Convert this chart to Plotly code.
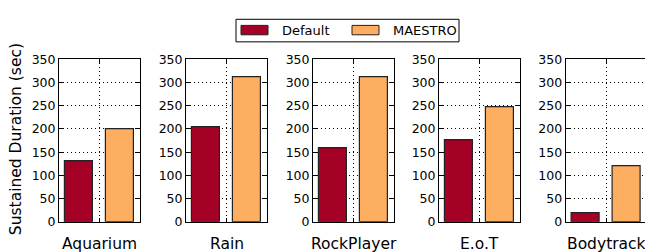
import plotly.graph_objects as go

apps = ["Aquarium", "Rain", "RockPlayer", "E.o.T", "Bodytrack"]
series_names = ["Default", "MAESTRO"]
default_vals = [130, 203, 159, 175, 18]
maestro_vals = [200, 311, 312, 247, 120]
colors = ["#a50026", "#fdae61"]
y_ticks = [0, 50, 100, 150, 200, 250, 300, 350]

W, H = 645, 252
FONT = "DejaVu Sans"

fig = go.Figure()

left_px = [59, 186, 313, 439, 565.7]
panel_w = 81.0
px_per_unit = panel_w / 2.0
y_bot_px, y_top_px = 227.3, 54.5
DOT = "1px,3px"

for i, app in enumerate(apps):
    xa = "x" if i == 0 else f"x{i+1}"
    ya = "y" if i == 0 else f"y{i+1}"
    for j, (name, vals) in enumerate(zip(series_names, [default_vals, maestro_vals])):
        fig.add_trace(go.Bar(
            x=[j], y=[vals[i]], width=0.7, name=name,
            marker=dict(color=colors[j], line=dict(color="#222222", width=1.2)),
            xaxis=xa, yaxis=ya, showlegend=False,
        ))
    l = left_px[i]
    r = min(l + panel_w, W)
    xmax = -0.5 + (r - l) / px_per_unit
    last = (i == len(apps) - 1)
    xkey = "xaxis" if i == 0 else f"xaxis{i+1}"
    ykey = "yaxis" if i == 0 else f"yaxis{i+1}"
    fig.update_layout(**{
        xkey: dict(
            domain=[l / W, r / W], range=[-0.5, xmax], anchor=ya,
            tickvals=[0.5], ticktext=[""], ticks="inside", ticklen=4,
            tickcolor="black", showline=True, linecolor="black", linewidth=1,
            mirror="ticks", showgrid=True, gridcolor="black", griddash=DOT,
            gridwidth=1, zeroline=False, fixedrange=True,
        ),
        ykey: dict(
            domain=[1 - y_bot_px / H, 1 - y_top_px / H], range=[0, 350], anchor=xa,
            tickvals=y_ticks, ticks="inside", ticklen=4, tickcolor="black",
            showline=True, linecolor="black", linewidth=1,
            mirror=False if last else "ticks",
            showgrid=True, gridcolor="black", griddash=DOT, gridwidth=1,
            zeroline=False, tickfont=dict(family=FONT, size=12.5, color="black"),
            fixedrange=True,
        ),
    })
    fig.add_annotation(
        x=(l + panel_w / 2) / W, y=1 - 239 / H, xref="paper", yref="paper",
        text=app, showarrow=False, xanchor="center", yanchor="top",
        font=dict(family=FONT, size=15.5, color="black"),
    )

# y-axis title
fig.add_annotation(
    x=15.5 / W, y=1 - 140 / H, xref="paper", yref="paper",
    text="Sustained Duration (sec)", textangle=-90, showarrow=False,
    xanchor="center", yanchor="middle",
    font=dict(family=FONT, size=15.5, color="black"),
)

# legend (box, swatches, labels)
shapes = [dict(type="rect", xref="paper", yref="paper",
               x0=236 / W, x1=459 / W, y0=1 - 36 / H, y1=1 - 12 / H,
               line=dict(color="black", width=1), fillcolor="white", layer="above")]
sw_x = [241, 352]
tx_x = [280, 391]
for j, name in enumerate(series_names):
    shapes.append(dict(type="rect", xref="paper", yref="paper",
                       x0=sw_x[j] / W, x1=(sw_x[j] + 27) / W,
                       y0=1 - 28.5 / H, y1=1 - 18.5 / H,
                       line=dict(color="#222222", width=1), fillcolor=colors[j],
                       layer="above"))
    fig.add_annotation(
        x=tx_x[j] / W, y=1 - 24 / H, xref="paper", yref="paper",
        text=name, showarrow=False, xanchor="left", yanchor="middle",
        font=dict(family=FONT, size=13, color="black"),
    )

fig.update_layout(
    shapes=shapes,
    width=W, height=H, autosize=False,
    margin=dict(l=0, r=0, t=0, b=0),
    paper_bgcolor="white", plot_bgcolor="white",
    showlegend=False, barmode="group", bargap=0,
)

fig.write_html(
    "out.html",
    config={"displayModeBar": False},
    post_script="document.body.style.margin='0';document.body.style.overflow='hidden';",
)
